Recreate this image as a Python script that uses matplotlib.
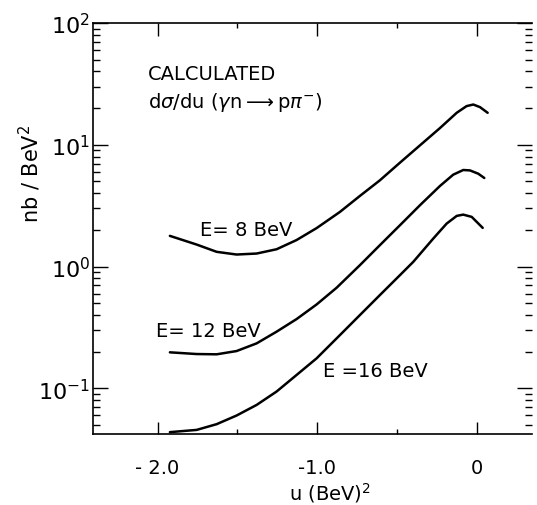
import matplotlib.pyplot as plt
from matplotlib.ticker import FixedLocator, LogLocator, NullFormatter

# values
u8 = [-1.923, -1.755, -1.630, -1.505, -1.379, -1.254, -1.129, -1.003, -0.857,
      -0.732, -0.607, -0.481, -0.356, -0.230, -0.125, -0.063, -0.021, 0.021, 0.069]
s8 = [1.785, 1.514, 1.320, 1.254, 1.278, 1.386, 1.649, 2.068, 2.808,
      3.798, 5.098, 7.12, 9.87, 13.71, 18.30, 20.77, 21.40, 20.37, 18.30]

u12 = [-1.923, -1.755, -1.630, -1.505, -1.379, -1.254, -1.129, -1.003, -0.878, -0.732,
       -0.607, -0.481, -0.356, -0.230, -0.147, -0.084, -0.042, 0.010, 0.048]
s12 = [0.1973, 0.1910, 0.1900, 0.2021, 0.2338, 0.2916, 0.3698, 0.4881, 0.6689, 1.025,
       1.495, 2.181, 3.18, 4.586, 5.677, 6.203, 6.156, 5.785, 5.334]

u16 = [-1.923, -1.755, -1.630, -1.505, -1.379, -1.254, -1.129, -1.003, -0.857, -0.732,
       -0.607, -0.481, -0.397, -0.272, -0.188, -0.125, -0.084, -0.031, 0.038]
s16 = [0.0436, 0.0455, 0.0507, 0.0597, 0.0730, 0.0940, 0.1285, 0.1762, 0.2734, 0.3989,
       0.5817, 0.8486, 1.093, 1.696, 2.252, 2.604, 2.668, 2.556, 2.076]

xticks = [-2.0, -1.0, 0.0]
xticklabels = ["- 2.0", "-1.0", "0"]
yticks = [0.1, 1, 10, 100]
yticklabels = ["$10^{-1}$", "$10^{0}$", "$10^{1}$", "$10^{2}$"]

plt.rcParams['font.family'] = ['DejaVu Sans']
plt.rcParams['mathtext.fontset'] = 'dejavusans'

fig = plt.figure(figsize=(5.37, 5.06), dpi=100)
ax = fig.add_axes([93/537, 1-435/506, (532-93)/537, (435-24)/506])

for u, s in [(u8, s8), (u12, s12), (u16, s16)]:
    ax.plot(u, s, color="black", lw=1.8, solid_capstyle="round")

ax.set_yscale("log")
ax.set_xlim(-2.405, 0.347)
ax.set_ylim(0.0421, 100)

ax.xaxis.set_major_locator(FixedLocator(xticks))
ax.set_xticklabels(xticklabels, fontsize=14)
ax.xaxis.set_minor_locator(FixedLocator([-1.5, -0.5]))
ax.set_yticks(yticks)
ax.set_yticklabels(yticklabels, fontsize=16)
ax.yaxis.set_minor_locator(LogLocator(base=10, subs=range(2, 10)))
ax.yaxis.set_minor_formatter(NullFormatter())

ax.tick_params(which="both", direction="in", top=True, right=True, width=1.0)
ax.tick_params(axis="x", which="major", length=9, pad=17)
ax.tick_params(axis="x", which="minor", length=3.5)
ax.tick_params(axis="y", which="major", length=11, pad=2)
ax.tick_params(axis="y", which="minor", length=5)

for side in ["left", "bottom", "top"]:
    ax.spines[side].set_linewidth(1.2)
ax.spines["right"].set_visible(False)

ax.set_xlabel("u (BeV)$^2$", fontsize=14, va="center")
ax.set_ylabel("nb / BeV$^2$", fontsize=15)
ax.xaxis.set_label_coords(0.54, -0.142)
ax.yaxis.set_label_coords(-0.114, 0.635)

ax.text(0.126, 0.864, "CALCULATED", transform=ax.transAxes, fontsize=14, va="baseline")
ax.text(0.126, 0.796, r"d$\sigma$/du ($\gamma$n$\longrightarrow$p$\pi^{-}$)", transform=ax.transAxes,
        fontsize=14, va="baseline")

ax.text(-1.735, 2.01, "E= 8 BeV", fontsize=14, ha="left", va="center")
ax.text(-2.01, 0.299, "E= 12 BeV", fontsize=14, ha="left", va="center")
ax.text(-0.964, 0.1405, "E =16 BeV", fontsize=14, ha="left", va="center")

fig.savefig("out.png", dpi=100)
